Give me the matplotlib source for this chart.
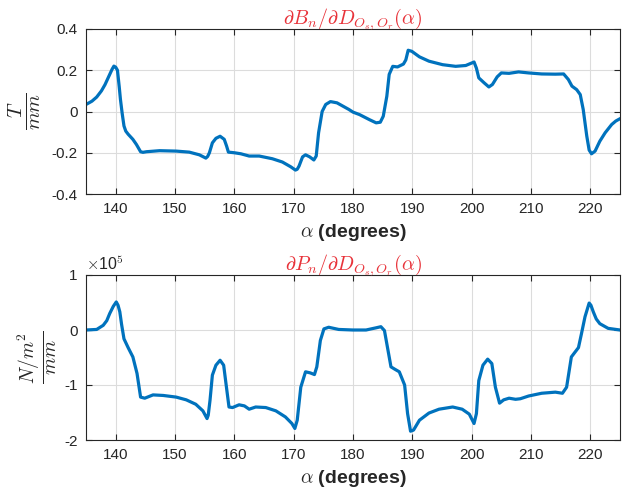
import matplotlib
matplotlib.use("Agg")
import matplotlib.pyplot as plt
import numpy as np

plt.rcParams['mathtext.fontset'] = 'cm'
plt.rcParams['font.family'] = ['Liberation Sans', 'DejaVu Sans']

# Top panel: dB_n/dD (T/mm)
alpha_b = [135.0, 136.0, 136.8, 137.6, 138.2, 139.0, 139.4, 139.7, 140.0, 140.3,
           140.6, 140.8, 141.1, 141.4, 141.7, 142.1, 142.9, 143.5, 144.2, 144.6,
           145.2, 147.4, 150.2, 152.4, 154.1, 155.2, 155.5, 155.8, 156.3, 156.9,
           157.6, 158.3, 158.7, 159.0, 160.0, 161.1, 162.5, 164.2, 166.4, 168.1,
           169.5, 170.3, 170.6, 170.9, 171.5, 172.0, 172.7, 173.4, 173.8, 174.2,
           174.8, 175.4, 176.2, 177.3, 179.3, 180.0, 181.1, 182.8, 183.9, 184.6,
           185.1, 185.7, 186.1, 186.7, 187.5, 188.5, 188.9, 189.3, 189.9, 191.2,
           192.8, 195.1, 197.3, 199.0, 200.0, 200.4, 200.8, 201.2, 202.1, 202.9,
           203.5, 204.3, 205.0, 206.3, 207.9, 209.6, 211.8, 214.1, 215.5, 216.3,
           216.9, 217.7, 218.3, 218.8, 219.4, 219.8, 220.2, 220.8, 221.6, 222.5,
           223.6, 224.3, 225.0]
dB = [0.034, 0.05, 0.07, 0.10, 0.13, 0.18, 0.205, 0.22, 0.215, 0.20,
      0.12, 0.06, -0.01, -0.07, -0.095, -0.11, -0.135, -0.16, -0.195, -0.198,
      -0.195, -0.19, -0.192, -0.197, -0.21, -0.226, -0.218, -0.20, -0.152, -0.13,
      -0.12, -0.135, -0.168, -0.197, -0.20, -0.205, -0.216, -0.216, -0.229, -0.245,
      -0.268, -0.284, -0.28, -0.265, -0.22, -0.21, -0.22, -0.235, -0.216, -0.103,
      0.0, 0.034, 0.048, 0.042, 0.01, -0.003, -0.015, -0.04, -0.055, -0.052,
      -0.023, 0.074, 0.18, 0.219, 0.216, 0.23, 0.25, 0.297, 0.292, 0.265,
      0.244, 0.227, 0.219, 0.223, 0.235, 0.24, 0.21, 0.163, 0.139, 0.119,
      0.131, 0.168, 0.187, 0.185, 0.192, 0.187, 0.182, 0.181, 0.182, 0.155,
      0.123, 0.106, 0.082, 0.01, -0.119, -0.187, -0.205, -0.192, -0.144, -0.103,
      -0.063, -0.046, -0.035]

# Bottom panel: dP_n/dD (x1e5 N/m^2/mm)
alpha_p = [135.0, 136.8, 137.9, 138.5, 139.0, 139.6, 140.1, 140.4, 140.7, 141.0,
           141.4, 142.1, 142.9, 143.6, 144.2, 144.9, 146.3, 148.0, 150.2, 151.9,
           153.5, 154.7, 155.4, 155.6, 155.9, 156.3, 156.9, 157.6, 158.2, 158.6,
           159.1, 159.7, 160.8, 161.7, 162.5, 163.6, 165.3, 167.0, 168.6, 169.7,
           170.2, 170.6, 171.2, 172.0, 172.8, 173.5, 173.9, 174.5, 175.1, 175.9,
           177.6, 180.0, 182.2, 183.9, 184.7, 185.3, 185.9, 186.4, 187.0, 187.8,
           188.7, 189.2, 189.7, 190.2, 191.2, 192.8, 194.5, 196.8, 198.4, 199.6,
           200.4, 200.8, 201.2, 201.9, 202.7, 203.4, 204.0, 204.7, 205.4, 206.3,
           207.4, 208.2, 209.6, 211.8, 214.1, 215.3, 216.0, 216.8, 218.0, 218.5,
           219.1, 219.8, 220.1, 220.5, 221.0, 221.6, 223.0, 225.0]
dP = [0.0, 0.01, 0.085, 0.17, 0.30, 0.43, 0.51, 0.45, 0.33, 0.10,
      -0.16, -0.32, -0.49, -0.79, -1.22, -1.24, -1.18, -1.19, -1.22, -1.27,
      -1.35, -1.47, -1.61, -1.55, -1.28, -0.82, -0.64, -0.55, -0.64, -0.98,
      -1.40, -1.41, -1.36, -1.38, -1.44, -1.40, -1.41, -1.47, -1.58, -1.70,
      -1.79, -1.64, -1.04, -0.76, -0.78, -0.81, -0.67, -0.19, 0.02, 0.05,
      0.01, 0.0, 0.0, 0.04, 0.06, -0.01, -0.37, -0.67, -0.71, -0.76,
      -1.0, -1.52, -1.84, -1.82, -1.64, -1.51, -1.44, -1.40, -1.44, -1.53,
      -1.70, -1.52, -0.92, -0.64, -0.53, -0.61, -1.04, -1.33, -1.27, -1.24,
      -1.26, -1.25, -1.20, -1.15, -1.13, -1.15, -1.04, -0.49, -0.32, -0.07,
      0.24, 0.49, 0.45, 0.33, 0.20, 0.115, 0.03, 0.0]

xticks = [140, 150, 160, 170, 180, 190, 200, 210, 220]
yticks_b = [-0.4, -0.2, 0, 0.2, 0.4]
yticks_p = [-2, -1, 0, 1]

LINE = '#0072BD'
RED = '#E8333A'
TXT = '#262626'

fig = plt.figure(figsize=(6.32, 4.96), dpi=100)
ax1 = fig.add_axes([86/632, 1-194/496, 534/632, 165/496])
ax2 = fig.add_axes([86/632, 1-440/496, 534/632, 165/496])

def style(ax):
    ax.set_xlim(135, 225)
    ax.set_xticks(xticks)
    ax.grid(True, color='#dcdcdc', linewidth=0.8)
    ax.set_axisbelow(True)
    ax.tick_params(direction='in', top=True, right=True, labelsize=11,
                   colors=TXT, length=4, width=0.8, pad=6)
    for s in ax.spines.values():
        s.set_color('#262626')
        s.set_linewidth(0.8)
    ax.set_xlabel(r'$\alpha$ (degrees)', fontsize=14, fontweight='bold',
                  color=TXT, labelpad=4)

ax1.plot(alpha_b, dB, color=LINE, linewidth=2.3, solid_joinstyle='round')
style(ax1)
ax1.set_ylim(-0.4, 0.4)
ax1.set_yticks(yticks_b)
ax1.set_yticklabels(['-0.4', '-0.2', '0', '0.2', '0.4'])
ax1.set_title(r'$\partial B_n/\partial D_{O_s,O_r}(\alpha)$', color=RED,
              fontsize=14.5, pad=4)
ax1.set_ylabel(r'$\frac{T}{mm}$', fontsize=21, color=TXT, labelpad=6)

ax2.plot(alpha_p, dP, color=LINE, linewidth=2.3, solid_joinstyle='round')
style(ax2)
ax2.set_ylim(-2, 1)
ax2.set_yticks(yticks_p)
ax2.set_yticklabels(['-2', '-1', '0', '1'])
ax2.set_title(r'$\partial P_n/\partial D_{O_s,O_r}(\alpha)$', color=RED,
              fontsize=14.5, pad=4)
ax2.set_ylabel(r'$\frac{N/m^2}{mm}$', fontsize=20, color=TXT, labelpad=4)
ax2.text(0.0, 1.015, r'$\times$10$^5$', transform=ax2.transAxes,
         fontsize=11.5, color=TXT, ha='left', va='bottom')

fig.savefig('out.png', dpi=100, facecolor='white')
